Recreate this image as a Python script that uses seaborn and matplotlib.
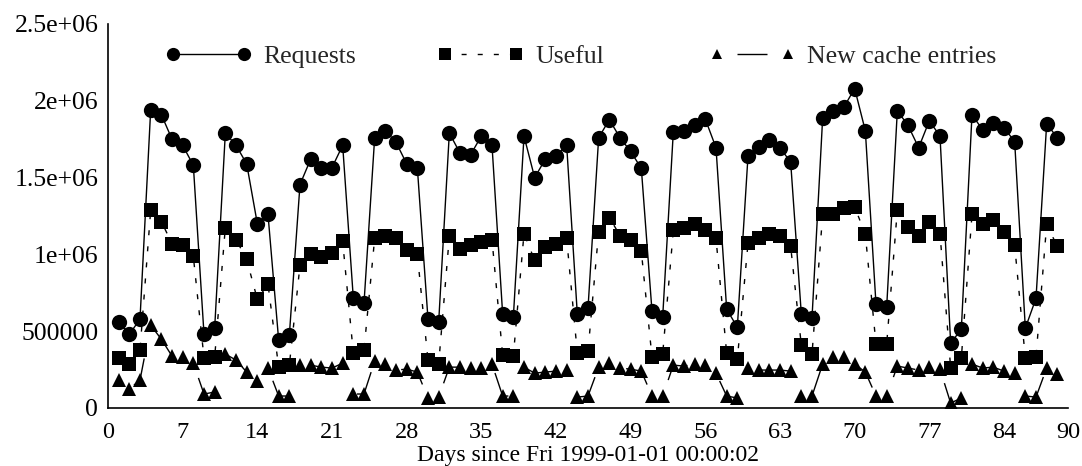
import numpy as np
import pandas as pd
import matplotlib
matplotlib.use("Agg")
import matplotlib.pyplot as plt
import seaborn as sns

days = list(range(1, 90))
requests_k = [560, 480, 578, 1940, 1910, 1750, 1710, 1580, 480, 520,
              1790, 1710, 1590, 1200, 1260, 441, 474, 1455, 1620, 1560,
              1565, 1710, 714, 682, 1760, 1805, 1730, 1590, 1565, 578,
              558, 1790, 1660, 1650, 1770, 1710, 610, 591, 1770, 1500,
              1620, 1640, 1710, 610, 650, 1760, 1877, 1760, 1670, 1560,
              630, 591, 1800, 1805, 1840, 1880, 1695, 643, 526, 1640,
              1700, 1745, 1695, 1600, 610, 585, 1890, 1935, 1960, 2080,
              1805, 675, 656, 1935, 1840, 1695, 1870, 1770, 422, 513,
              1910, 1810, 1857, 1825, 1734, 520, 714, 1850, 1760]
useful_k = [325, 286, 377, 1286, 1214, 1070, 1058, 987, 327, 331,
            1175, 1097, 967, 708, 805, 266, 279, 929, 1000, 981,
            1007, 1084, 357, 377, 1104, 1123, 1104, 1026, 1000, 312,
            286, 1117, 1032, 1058, 1078, 1097, 344, 338, 1136, 961,
            1045, 1065, 1104, 357, 370, 1149, 1240, 1123, 1097, 1020,
            331, 351, 1156, 1175, 1195, 1162, 1104, 357, 318, 1071,
            1104, 1136, 1117, 1052, 409, 351, 1260, 1260, 1300, 1310,
            1130, 416, 416, 1290, 1180, 1117, 1208, 1136, 260, 325,
            1260, 1200, 1227, 1149, 1058, 325, 331, 1195, 1052]
new_entries_k = [182, 123, 182, 539, 448, 338, 331, 292, 91, 104,
                 351, 312, 234, 175, 260, 78, 78, 279, 279, 266,
                 260, 292, 91, 91, 305, 286, 247, 253, 234, 65,
                 71, 266, 266, 260, 260, 286, 78, 78, 266, 227,
                 234, 240, 247, 71, 78, 266, 292, 260, 253, 240,
                 78, 78, 279, 273, 286, 279, 227, 78, 65, 260,
                 247, 247, 247, 240, 78, 78, 286, 331, 331, 286,
                 234, 78, 78, 273, 260, 247, 266, 253, 32, 65,
                 286, 260, 266, 240, 227, 78, 71, 260, 221]

series_names = ["Requests", "Useful", "New cache entries"]
xtick_values = [0, 7, 14, 21, 28, 35, 42, 49, 56, 63, 70, 77, 84, 90]
ytick_values = [0, 500000, 1000000, 1500000, 2000000, 2500000]
ytick_labels = ["0", "500000", "1e+06", "1.5e+06", "2e+06", "2.5e+06"]
xlabel_text = "Days since Fri 1999-01-01 00:00:02"

df = pd.DataFrame({
    "day": days,
    "Requests": np.array(requests_k) * 1000,
    "Useful": np.array(useful_k) * 1000,
    "New cache entries": np.array(new_entries_k) * 1000,
})

sns.set_theme(style="white")
plt.rcParams["font.family"] = ["Liberation Serif", "DejaVu Serif"]

W, H = 1082, 466
fig = plt.figure(figsize=(W / 100, H / 100), dpi=100)
ax = fig.add_axes([108 / W, 58 / H, 960 / W, 384 / H])

styles = {
    "Requests": dict(marker="o", markersize=11, linestyle="-"),
    "Useful": dict(marker="s", markersize=10.5, linestyle=(0, (3.6, 8))),
    "New cache entries": dict(marker="^", markersize=10, linestyle=(36, (21.6, 28.8))),
}
for name in series_names:
    sns.lineplot(data=df, x="day", y=name, ax=ax, color="black", linewidth=1.0,
                 markeredgewidth=0, label=name, **styles[name])

ax.set_xlim(0, 90)
ax.set_ylim(0, 2500000)
ax.set_xticks(xtick_values)
ax.set_xticklabels([str(v) for v in xtick_values])
ax.set_xticks(np.arange(0, 91, 1), minor=True)
ax.set_yticks(ytick_values)
ax.set_yticklabels(ytick_labels)

for s in ["top", "right"]:
    ax.spines[s].set_visible(False)
for s in ["left", "bottom"]:
    ax.spines[s].set_color("black")
    ax.spines[s].set_linewidth(1.2)

ax.tick_params(axis="both", which="major", direction="in", length=14, width=1,
               color="black", labelcolor="black")
ax.tick_params(axis="x", which="major", labelsize=17.5, pad=10)
ax.tick_params(axis="y", which="major", labelsize=18.5, pad=7)
ax.tick_params(axis="x", which="minor", direction="in", length=7, width=1, color="black")
ax.tick_params(axis="y", which="minor", length=0)

ax.set_xlabel(xlabel_text, fontsize=17, color="black", labelpad=1.5)
ax.set_ylabel("")
ax.grid(False)

# legend: three fixed-width entries, like gnuplot's key
handles, labels = ax.get_legend_handles_labels()
if ax.get_legend():
    ax.get_legend().remove()
fs = 18.5
fs_px = fs * 100 / 72
legend_x_px = [173, 445, 717]
legend_ms = [9.5, 9.0, 7.5]
for i, (h, lab) in enumerate(zip(handles, labels)):
    x0 = (legend_x_px[i] - 0.3 * fs_px) / W
    leg = fig.legend([h], [lab], loc="center left", bbox_to_anchor=(x0, (H - 57) / H),
                     bbox_transform=fig.transFigure, frameon=False, numpoints=2,
                     handlelength=(71 + 0.6 * fs_px) / fs_px, handletextpad=0.45,
                     borderpad=0, borderaxespad=0, fontsize=fs)
    lh = leg.legend_handles[0]
    lh.set_markersize(legend_ms[i])
    if lab == "New cache entries":
        lh.set_linestyle((36, (21.6, 28.8)))

fig.savefig("out.png", dpi=100)
